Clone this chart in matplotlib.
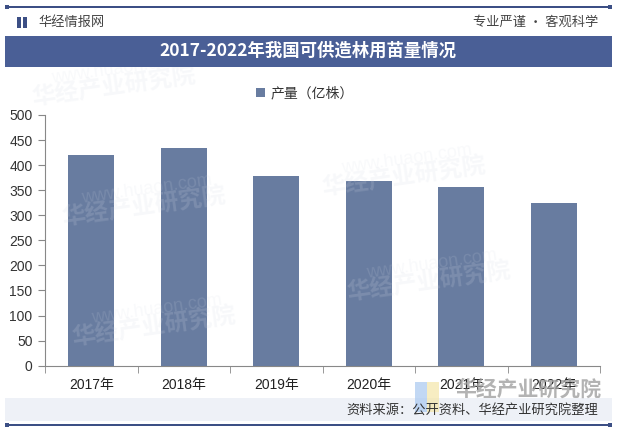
import matplotlib
matplotlib.use("Agg")
import matplotlib.pyplot as plt
from matplotlib.patches import Rectangle

plt.rcParams['font.family'] = ['Liberation Sans', 'Noto Sans CJK SC', 'DejaVu Sans']

categories = ["2017年", "2018年", "2019年", "2020年", "2021年", "2022年"]
values = [420, 434, 378, 368, 356, 324]
series_name = "产量（亿株）"
yticks = [0, 50, 100, 150, 200, 250, 300, 350, 400, 450, 500]
title = "2017-2022年我国可供造林用苗量情况"
site_name = "华经情报网"
slogan = "专业严谨 • 客观科学"
source = "资料来源：公开资料、华经产业研究院整理"

W, H = 617, 434
fig = plt.figure(figsize=(W / 100, H / 100), dpi=100)
fig.patch.set_facecolor("white")

def fx(x):
    return x / W

def fy(y):
    return 1 - y / H

cjk = ['Noto Sans CJK SC', 'DejaVu Sans']
dark = "#3c4f85"

# faint watermarks
wm_color = "#d5dbe6"
for (x, y) in [(30, 105), (320, 195), (60, 225), (345, 300), (70, 345)]:
    fig.text(fx(x), fy(y), "华经产业研究院", fontsize=17, color=wm_color, alpha=0.18,
             rotation=8, family=cjk, fontweight="bold", zorder=0)
    fig.text(fx(x + 20), fy(y - 22), "www.huaon.com", fontsize=13, color=wm_color, alpha=0.15,
             rotation=8, zorder=0)

# top line
fig.add_artist(Rectangle((fx(5), fy(8)), fx(607), 2 / H, transform=fig.transFigure,
                         color=dark, lw=0))
for x in (5, 608):
    fig.add_artist(Rectangle((fx(x), fy(9)), 4 / W, 4 / H, transform=fig.transFigure,
                             color=dark, lw=0))
# header icon
fig.add_artist(Rectangle((fx(17), fy(28)), 4 / W, 11 / H, transform=fig.transFigure,
                         color=dark, lw=0))
fig.add_artist(Rectangle((fx(23), fy(28)), 4 / W, 11 / H, transform=fig.transFigure,
                         color=dark, lw=0))
fig.text(fx(38), fy(22), site_name, fontsize=9.5, color="#444444", family=cjk,
         va="center", ha="left")
fig.text(fx(598), fy(22), slogan, fontsize=9.5, color="#444444", family=cjk,
         va="center", ha="right")

# title bar
fig.add_artist(Rectangle((fx(5), fy(67)), fx(607), 31 / H, transform=fig.transFigure,
                         color="#4a5f96", lw=0))
fig.text(fx(308), fy(51), title, fontsize=12.5, color="white", family=cjk,
         fontweight="bold", va="center", ha="center")

# footer band
fig.add_artist(Rectangle((fx(5), fy(421)), fx(607), 23 / H, transform=fig.transFigure,
                         color="#eef1f7", lw=0))
fig.text(fx(598), fy(410), source, fontsize=9.5, color="#333333", family=cjk,
         va="center", ha="right")
fig.add_artist(Rectangle((fx(5), fy(426)), fx(607), 2 / H, transform=fig.transFigure,
                         color=dark, lw=0))
for x in (5, 608):
    fig.add_artist(Rectangle((fx(x), fy(427)), 4 / W, 4 / H, transform=fig.transFigure,
                             color=dark, lw=0))

# bottom-right watermark
fig.add_artist(Rectangle((fx(415), fy(412)), 12 / W, 30 / H, transform=fig.transFigure,
                         color="#a9c8f0", lw=0, alpha=0.7))
fig.add_artist(Rectangle((fx(427), fy(412)), 12 / W, 30 / H, transform=fig.transFigure,
                         color="#f5e6a8", lw=0, alpha=0.7))
fig.text(fx(455), fy(389), "华经产业研究院", fontsize=15, color="#a0a0a0", alpha=0.8,
         family=cjk, fontweight="bold", va="center", ha="left")

# axes
ax = fig.add_axes([fx(45), fy(365.7), fx(600) - fx(45), (365.7 - 115) / H])
ax.patch.set_alpha(0)
x = list(range(len(categories)))
bars = ax.bar(x, values, width=0.5, color="#687ca0", label=series_name, zorder=3)
ax.set_xlim(-0.5, len(categories) - 0.5)
ax.set_ylim(0, 500)
ax.set_yticks(yticks)
ax.set_yticklabels([str(v) for v in yticks], fontsize=10, color="#333333")
ax.set_xticks(x)
ax.set_xticklabels(categories, fontsize=10, color="#222222")
ax.set_xticks([i - 0.5 for i in range(len(categories) + 1)], minor=True)
ax.tick_params(axis="x", which="major", length=0, pad=9)
ax.tick_params(axis="x", which="minor", length=5, color="#888888", direction="out")
ax.tick_params(axis="y", length=5, color="#888888", pad=4)
for s in ("top", "right"):
    ax.spines[s].set_visible(False)
for s in ("left", "bottom"):
    ax.spines[s].set_color("#888888")
    ax.spines[s].set_linewidth(0.8)

leg = fig.legend(handles=[bars], labels=[series_name], loc="center",
                 bbox_to_anchor=(fx(305), fy(93)), frameon=False,
                 handlelength=0.6, handleheight=0.6, handletextpad=0.4,
                 prop={'family': cjk, 'size': 10})
for t in leg.get_texts():
    t.set_color("#333333")

fig.savefig("out.png", dpi=100)
